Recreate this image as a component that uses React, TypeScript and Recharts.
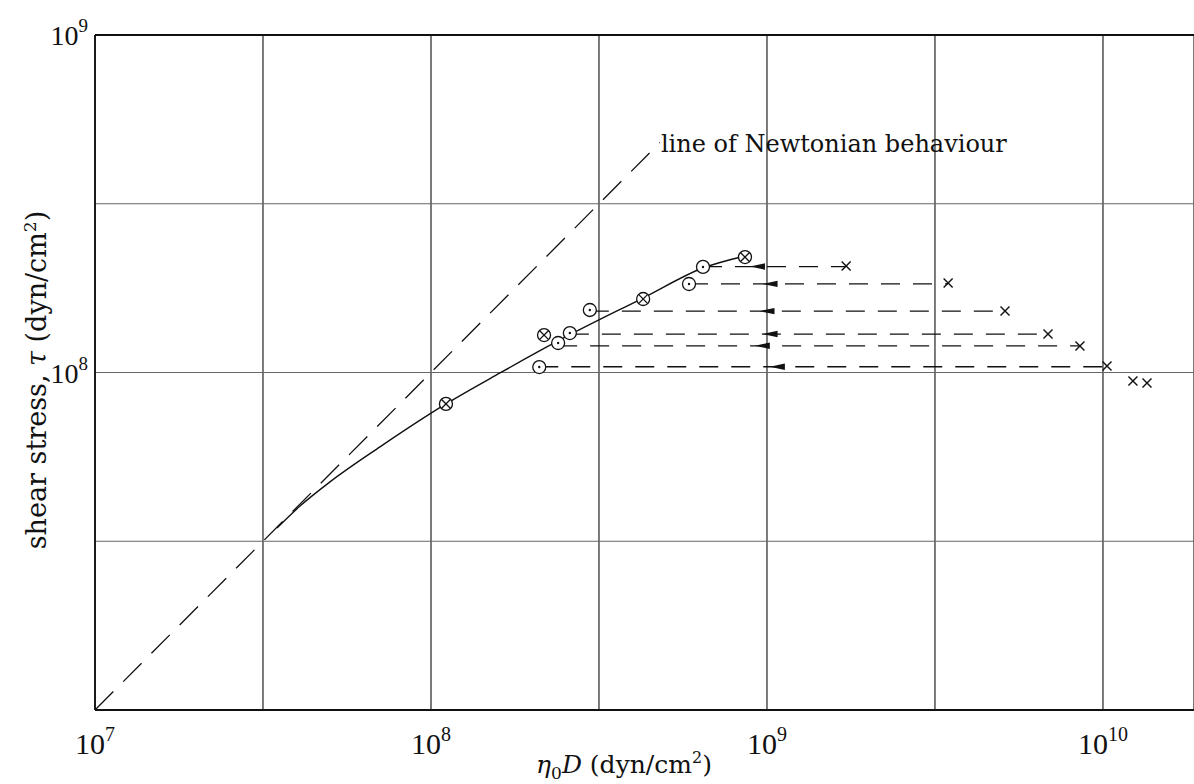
import React from 'react';
import { ComposedChart, CartesianGrid, XAxis, YAxis, Line, Scatter, Label, ReferenceLine, ReferenceDot } from 'recharts';

// axes (log–log), ticks every half decade, labels on decades only
const X_TICKS = [1e7, 3.162e7, 1e8, 3.162e8, 1e9, 3.162e9, 1e10];
const X_EXPONENTS = ['7', '', '8', '', '9', '', '10'];
const Y_TICKS = [1e7, 3.162e7, 1e8, 3.162e8, 1e9];
const Y_EXPONENTS = ['', '', '8', '', '9'];
const X_DOMAIN = [1e7, 1.866e10];
const Y_DOMAIN = [1e7, 1e9];

// line of Newtonian behaviour (tau = eta0 D)
const NEWTON_X = [1e7, 4.8e8];
const NEWTON_Y = [1e7, 4.8e8];

// fitted curve through the measured points
const CURVE_X = [3.48e7, 4.076e7, 5.005e7, 7.05e7, 1.108e8, 1.605e8, 2.388e8, 4.276e8, 6.45e8, 8.6e8];
const CURVE_Y = [3.46e7, 4.02e7, 4.74e7, 6.02e7, 8.07e7, 9.97e7, 1.24e8, 1.662e8, 2.04e8, 2.214e8];

// measured points
const DOT_X = [2.1e8, 2.39e8, 2.59e8, 2.97e8, 5.86e8, 6.45e8];
const DOT_Y = [1.038e8, 1.223e8, 1.309e8, 1.532e8, 1.829e8, 2.055e8];
const OTIMES_X = [1.108e8, 2.17e8, 4.28e8, 8.6e8];
const OTIMES_Y = [8.07e7, 1.291e8, 1.651e8, 2.198e8];
const CROSS_X = [1.72e9, 3.46e9, 5.11e9, 6.86e9, 8.54e9, 1.028e10, 1.228e10, 1.352e10];
const CROSS_Y = [2.068e8, 1.842e8, 1.521e8, 1.301e8, 1.198e8, 1.045e8, 9.44e7, 9.31e7];

// dashed shift lines with arrows
const ROW_Y = [2.06e8, 1.83e8, 1.52e8, 1.3e8, 1.2e8, 1.04e8];
const ROW_FROM = [6.45e8, 5.86e8, 2.97e8, 2.59e8, 2.39e8, 2.1e8];
const ROW_TO = [1.72e9, 3.46e9, 5.11e9, 6.86e9, 8.54e9, 1.028e10];
const ARROW_X = [8.9e8, 9.7e8, 9.5e8, 9.7e8, 9.2e8, 1.02e9];

const NUM_FONT = '"Liberation Serif", "DejaVu Serif", serif';
const TEXT_FONT = '"DejaVu Serif", "Liberation Serif", serif';
const INK = '#111';

const zip = (xs: number[], ys: number[]) => xs.map((x, i) => ({ x, y: ys[i] }));

const XTick = (props: any) => {
  const { x, payload } = props;
  const exp = X_EXPONENTS[X_TICKS.indexOf(payload.value)];
  if (!exp) return null;
  return (
    <text x={x} y={754} textAnchor="middle" fontFamily={NUM_FONT} fontSize={30} fill={INK}>
      10<tspan dy={-13} fontSize={20}>{exp}</tspan>
    </text>
  );
};

const YTick = (props: any) => {
  const { y, payload } = props;
  const exp = Y_EXPONENTS[Y_TICKS.indexOf(payload.value)];
  if (!exp) return null;
  return (
    <text x={88} y={y + 10} textAnchor="end" fontFamily={NUM_FONT} fontSize={28} fill={INK}>
      10<tspan dy={-13} fontSize={19}>{exp}</tspan>
    </text>
  );
};

const DotCircle = (props: any) => {
  const { cx, cy } = props;
  return (
    <g>
      <circle cx={cx} cy={cy} r={6.5} fill="#fff" stroke={INK} strokeWidth={1.3} />
      <circle cx={cx} cy={cy} r={1.2} fill={INK} />
    </g>
  );
};

const OTimes = (props: any) => {
  const { cx, cy } = props;
  const d = 4.6;
  return (
    <g stroke={INK} strokeWidth={1.3}>
      <circle cx={cx} cy={cy} r={6.5} fill="#fff" />
      <line x1={cx - d} y1={cy - d} x2={cx + d} y2={cy + d} />
      <line x1={cx - d} y1={cy + d} x2={cx + d} y2={cy - d} />
    </g>
  );
};

const Cross = (props: any) => {
  const { cx, cy } = props;
  const d = 4.5;
  return (
    <g stroke={INK} strokeWidth={1.4}>
      <line x1={cx - d} y1={cy - d} x2={cx + d} y2={cy + d} />
      <line x1={cx - d} y1={cy + d} x2={cx + d} y2={cy - d} />
    </g>
  );
};

const Arrow = (props: any) => {
  const { cx, cy } = props;
  return <polygon points={`${cx},${cy} ${cx + 15},${cy - 3.2} ${cx + 15},${cy + 3.2}`} fill={INK} />;
};

const NewtonLabel = (props: any) => {
  const { viewBox } = props;
  const x = viewBox ? viewBox.x : 0;
  const y = viewBox ? viewBox.y : 0;
  return (
    <text x={x + 1} y={y + 9} fontFamily={TEXT_FONT} fontSize={24} fill={INK}>
      line of Newtonian behaviour
    </text>
  );
};

const XTitle = () => (
  <text x={624} y={773} textAnchor="middle" fontFamily={TEXT_FONT} fontSize={25} fill={INK}>
    <tspan fontStyle="italic">η</tspan>
    <tspan dy={6} fontSize={17}>0</tspan>
    <tspan dy={-6} fontStyle="italic">D</tspan> (dyn/cm<tspan dy={-10} fontSize={16}>2</tspan>
    <tspan dy={10}>)</tspan>
  </text>
);

const YTitle = () => (
  <text x={0} y={0} transform="translate(46,380) rotate(-90)" textAnchor="middle" fontFamily={TEXT_FONT} fontSize={27} fill={INK}>
    shear stress, <tspan fontStyle="italic">τ</tspan> (dyn/cm<tspan dy={-10} fontSize={17}>2</tspan>
    <tspan dy={10}>)</tspan>
  </text>
);

export default function App() {
  return (
    <div style={{ position: 'absolute', left: 0, top: 0, background: '#fff' }}>
      <ComposedChart width={1194} height={784} margin={{ top: 35, right: 0, bottom: 0, left: 0 }}>
        <CartesianGrid horizontal={false} stroke="#333" strokeWidth={1.3} />
        <CartesianGrid vertical={false} stroke="#666" strokeWidth={1} />
        <XAxis
          type="number"
          dataKey="x"
          scale="log"
          domain={X_DOMAIN}
          ticks={X_TICKS}
          tick={<XTick />}
          tickLine={false}
          axisLine={{ stroke: INK, strokeWidth: 1.8 }}
          height={74}
          allowDataOverflow
        >
          <Label content={<XTitle />} />
        </XAxis>
        <YAxis
          type="number"
          dataKey="y"
          scale="log"
          domain={Y_DOMAIN}
          ticks={Y_TICKS}
          tick={<YTick />}
          tickLine={false}
          axisLine={{ stroke: INK, strokeWidth: 1.8 }}
          width={95}
          allowDataOverflow
        >
          <Label content={<YTitle />} />
        </YAxis>
        <ReferenceLine y={1e9} stroke={INK} strokeWidth={1.8} />

        <Line
          data={zip(NEWTON_X, NEWTON_Y)}
          dataKey="y"
          type="linear"
          stroke={INK}
          strokeWidth={1.3}
          strokeDasharray="26 14"
          dot={false}
          isAnimationActive={false}
        />
        <Line
          data={zip(CURVE_X, CURVE_Y)}
          dataKey="y"
          type="monotone"
          stroke={INK}
          strokeWidth={1.4}
          dot={false}
          isAnimationActive={false}
        />
        {ROW_Y.map((y, i) => (
          <Line
            key={`row-${i}`}
            data={[{ x: ROW_FROM[i], y }, { x: ROW_TO[i], y }]}
            dataKey="y"
            type="linear"
            stroke={INK}
            strokeWidth={1.3}
            strokeDasharray="19 13"
            dot={false}
            isAnimationActive={false}
          />
        ))}
        <Scatter data={zip(ARROW_X, ROW_Y)} shape={<Arrow />} isAnimationActive={false} />
        <Scatter data={zip(CROSS_X, CROSS_Y)} shape={<Cross />} isAnimationActive={false} />
        <Scatter data={zip(DOT_X, DOT_Y)} shape={<DotCircle />} isAnimationActive={false} />
        <Scatter data={zip(OTIMES_X, OTIMES_Y)} shape={<OTimes />} isAnimationActive={false} />
        <ReferenceDot x={4.8e8} y={4.8e8} r={0} label={<NewtonLabel />} ifOverflow="visible" />
      </ComposedChart>
    </div>
  );
}
